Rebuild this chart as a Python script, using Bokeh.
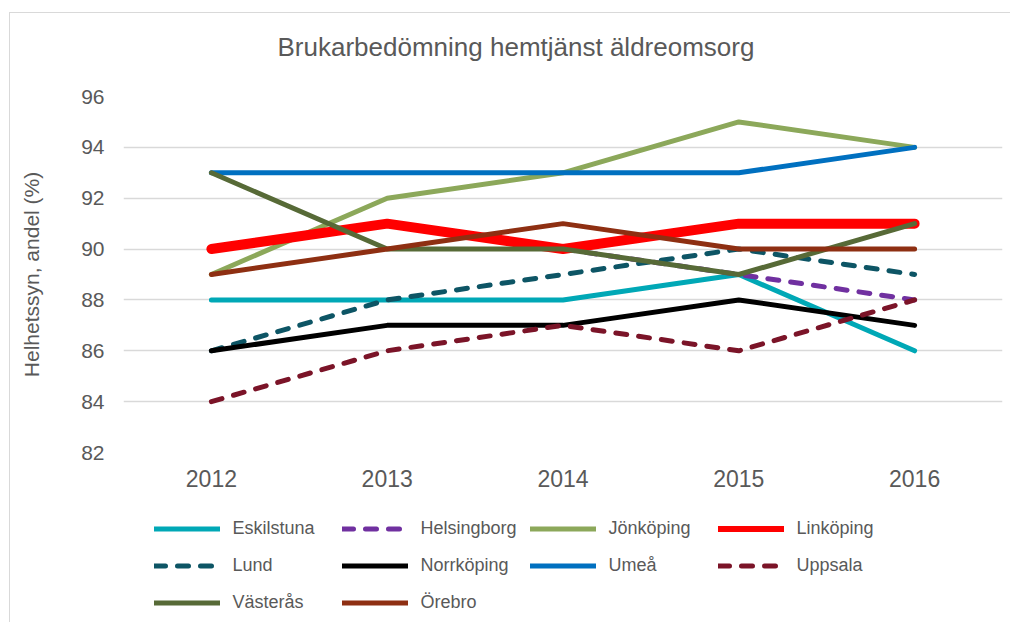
import numpy as np
from bokeh.plotting import figure
from bokeh.layouts import column
from bokeh.models import Legend, LegendItem, FixedTicker, FactorRange, Range1d
from bokeh.embed import file_html
from bokeh.resources import INLINE

years = ["2012", "2013", "2014", "2015", "2016"]

eskilstuna = [88, 88, 88, 89, 86]
helsingborg = [np.nan, np.nan, 90, 89, 88]
jonkoping = [89, 92, 93, 95, 94]
linkoping = [90, 91, 90, 91, 91]
lund = [86, 88, 89, 90, 89]
norrkoping = [86, 87, 87, 88, 87]
umea = [93, 93, 93, 93, 94]
uppsala = [84, 86, 87, 86, 88]
vasteras = [93, 90, 90, 89, 91]
orebro = [89, 90, 91, 90, 90]

series = [
    ("Eskilstuna", eskilstuna, "#00A8B6", 5, "solid"),
    ("Helsingborg", helsingborg, "#7030A0", 5, "11 12"),
    ("Jönköping", jonkoping, "#8CA85A", 5, "solid"),
    ("Linköping", linkoping, "#FF0000", 10, "solid"),
    ("Lund", lund, "#0D5565", 5, "11 12"),
    ("Norrköping", norrkoping, "#000000", 5, "solid"),
    ("Umeå", umea, "#0070C0", 5, "solid"),
    ("Uppsala", uppsala, "#7B1428", 5, "11 12"),
    ("Västerås", vasteras, "#576A37", 5, "solid"),
    ("Örebro", orebro, "#8E2F12", 5, "solid"),
]

FONT = "Liberation Sans"
GRAY = "#595959"

p = figure(
    x_range=FactorRange(*years), y_range=Range1d(82, 96),
    frame_width=879, frame_height=356,
    min_border_left=113, min_border_top=83, min_border_right=8, min_border_bottom=48,
    output_backend="svg", toolbar_location=None,
)
p.outline_line_color = None
p.background_fill_color = "white"
p.border_fill_color = "white"

p.title.text = "Brukarbedömning hemtjänst äldreomsorg\n "
p.title.align = "left"
p.title.offset = 154
p.title.text_font = FONT
p.title.text_font_size = "26px"
p.title.text_font_style = "normal"
p.title.text_color = GRAY
p.title.standoff = 10

p.yaxis.ticker = FixedTicker(ticks=[82, 84, 86, 88, 90, 92, 94, 96])
p.yaxis.axis_line_color = None
p.yaxis.major_tick_line_color = None
p.yaxis.minor_tick_line_color = None
p.yaxis.major_label_standoff = 13
p.yaxis.major_label_text_font = FONT
p.yaxis.major_label_text_font_size = "21px"
p.yaxis.major_label_text_color = GRAY
p.yaxis.axis_label = "Helhetssyn, andel (%)"
p.yaxis.axis_label_text_font = FONT
p.yaxis.axis_label_text_font_size = "21px"
p.yaxis.axis_label_text_font_style = "normal"
p.yaxis.axis_label_text_color = GRAY
p.yaxis.axis_label_standoff = 35

p.xaxis.axis_line_color = None
p.xaxis.major_tick_line_color = None
p.xaxis.minor_tick_line_color = None
p.xaxis.major_label_standoff = 11
p.xaxis.major_label_text_font = FONT
p.xaxis.major_label_text_font_size = "23px"
p.xaxis.major_label_text_color = GRAY

p.xgrid.grid_line_color = None
p.ygrid.grid_line_color = "#d9d9d9"
p.ygrid.grid_line_width = 1.5

for name, vals, color, w, dash in series:
    p.line(years, vals, line_color=color, line_width=w, line_dash=dash,
           line_cap="round", line_join="round")

# legend panel: same series drawn against a range they never reach (clipped away),
# only their legend entries are visible
lg = figure(width=1000, height=122, x_range=FactorRange(*years), y_range=Range1d(0, 1),
            min_border=0, output_backend="svg", toolbar_location=None,
            x_axis_type=None, y_axis_type=None)
lg.outline_line_color = None
lg.grid.visible = False
lg.background_fill_color = "white"
lg.border_fill_color = "white"

items = []
for name, vals, color, w, dash in series:
    r = lg.line(years, vals, line_color=color, line_width=min(w, 6), line_dash=dash,
                line_cap="round", line_join="round")
    items.append(LegendItem(label=name, renderers=[r]))

legend = Legend(
    items=items, orientation="horizontal", ncols=4,
    location=(30.5, 1.5),
    glyph_width=66, glyph_height=37, label_height=37, label_width=109,
    label_standoff=13, spacing=0, padding=0, margin=0,
    label_text_font=FONT, label_text_font_size="18px", label_text_color=GRAY,
    border_line_color=None, background_fill_alpha=0,
)
lg.add_layout(legend, "center")

layout = column(p, lg, spacing=0)
layout.styles = {"margin-left": "9px", "margin-top": "12px",
                 "border-left": "1px solid #d9d9d9", "border-top": "1px solid #d9d9d9"}

open("out.html", "w").write(file_html(layout, INLINE))
